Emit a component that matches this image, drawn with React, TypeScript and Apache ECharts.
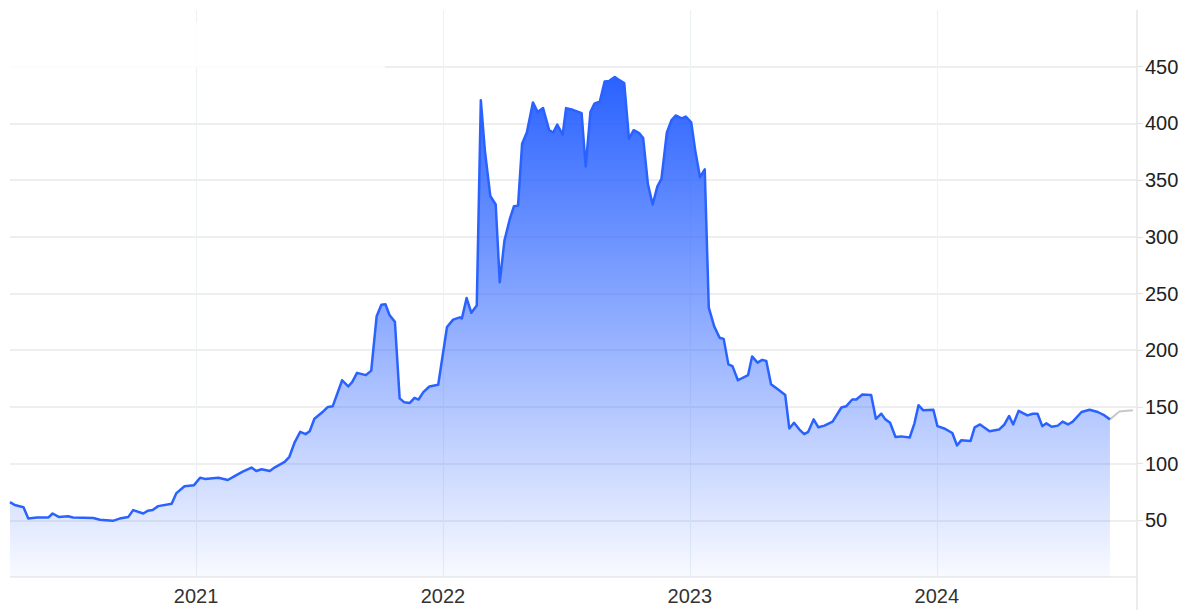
import React, { useEffect, useRef } from "react";
import * as echarts from "echarts";

const dates: string[] = [
  "2020-04-01","2020-04-08","2020-04-21","2020-04-28","2020-05-11","2020-05-28","2020-06-03","2020-06-12","2020-06-26","2020-07-03",
  "2020-08-02","2020-08-12","2020-08-31","2020-09-10","2020-09-23","2020-09-30","2020-10-15","2020-10-22","2020-10-29","2020-11-06",
  "2020-11-26","2020-12-03","2020-12-15","2020-12-29","2021-01-07","2021-01-14","2021-02-03","2021-02-17","2021-02-27","2021-03-11",
  "2021-03-24","2021-03-31","2021-04-08","2021-04-20","2021-04-27","2021-05-12","2021-05-19","2021-05-27","2021-06-04","2021-06-12",
  "2021-06-18","2021-06-25","2021-07-08","2021-07-15","2021-07-22","2021-08-05","2021-08-14","2021-08-20","2021-08-27","2021-09-09",
  "2021-09-17","2021-09-25","2021-10-02","2021-10-08","2021-10-14","2021-10-22","2021-10-29","2021-11-05","2021-11-13","2021-11-20",
  "2021-11-26","2021-12-03","2021-12-12","2021-12-25","2022-01-07","2022-01-16","2022-01-26","2022-01-29","2022-02-05","2022-02-12",
  "2022-02-20","2022-02-26","2022-03-04","2022-03-12","2022-03-20","2022-03-26","2022-04-02","2022-04-10","2022-04-16","2022-04-22",
  "2022-04-28","2022-05-05","2022-05-14","2022-05-21","2022-05-29","2022-06-07","2022-06-13","2022-06-19","2022-06-27","2022-07-02",
  "2022-07-12","2022-07-25","2022-07-31","2022-08-07","2022-08-13","2022-08-21","2022-08-28","2022-09-04","2022-09-12","2022-09-18",
  "2022-09-26","2022-10-03","2022-10-10","2022-10-18","2022-10-24","2022-10-31","2022-11-07","2022-11-14","2022-11-20","2022-11-28",
  "2022-12-05","2022-12-11","2022-12-20","2022-12-26","2023-01-03","2023-01-09","2023-01-16","2023-01-23","2023-01-29","2023-02-06",
  "2023-02-14","2023-02-20","2023-02-27","2023-03-05","2023-03-13","2023-03-28","2023-04-03","2023-04-11","2023-04-18","2023-04-24",
  "2023-05-01","2023-05-11","2023-05-22","2023-05-28","2023-06-04","2023-06-12","2023-06-19","2023-06-25","2023-07-03","2023-07-10",
  "2023-07-19","2023-07-31","2023-08-13","2023-08-20","2023-08-29","2023-09-04","2023-09-13","2023-09-26","2023-10-03","2023-10-11",
  "2023-10-17","2023-10-24","2023-11-01","2023-11-09","2023-11-22","2023-11-29","2023-12-05","2023-12-12","2023-12-27","2024-01-02",
  "2024-01-12","2024-01-24","2024-01-31","2024-02-06","2024-02-20","2024-02-26","2024-03-05","2024-03-19","2024-04-02","2024-04-10",
  "2024-04-17","2024-04-23","2024-05-01","2024-05-14","2024-05-22","2024-05-29","2024-06-05","2024-06-11","2024-06-19","2024-06-28",
  "2024-07-05","2024-07-13","2024-07-20","2024-08-02","2024-08-14","2024-08-26","2024-09-05","2024-09-13"
];

const prices: number[] = [
  66,63.5,61.5,51.5,52.5,52.5,56,53,53.5,52.5,
  52,50.5,49.5,51.5,53,59,56,58.5,59,62.5,
  64.5,74,80,81,87.5,86.5,87.5,85.5,89,93,
  96.5,93.5,95,93.5,96.5,101.5,106,119,128,126,
  128.5,139.5,146,150,150.5,173.5,168,172,180,178,
  182,230,240,240.5,231,225,157.5,154,153.5,158,
  156.5,163,168,169.5,220.5,227,229,228,246,233,
  239.5,420.5,376,336,328.5,260,297,316,327,327.5,
  382,392,418.5,410,413.5,394,392,399,390,413.5,
  412,409,362,410,417.5,419.5,437,437.5,441,438.5,
  435.5,386.5,394,391.5,387,346.5,328.5,344.5,351,392,
  403,407,404.5,406,401,376,352.5,359.5,237.5,221,
  211,210,187.5,186,173.5,178,194.5,189,191.5,190.5,
  170,165.5,160.5,131,136,130,126,128,139,132,
  133.5,137,149.5,150.5,156.5,156.5,161,160.5,139.5,144,
  139,136,123.5,124,123,135.5,151.5,147,147.5,133,
  131,127,116,120.5,120,132,134.5,128.5,130,134.5,
  142,134.5,146.5,142.5,144,144,133,135.5,132.5,133.5,
  137,134.5,137,145.5,147.5,145.5,142.5,139
];

const tailDates: string[] = ["2024-09-13", "2024-09-27", "2024-10-17"];
const tailPrices: number[] = [139, 146, 147];

const yearTicks: string[] = ["2021-01-01", "2022-01-01", "2023-01-01", "2024-01-01"];
const xMin = "2020-04-01";
const xMax = "2024-10-23";

export default function App() {
  const ref = useRef<HTMLDivElement>(null);
  useEffect(() => {
    document.body.style.margin = "0";
    if (!ref.current) return;
    const chart = echarts.init(ref.current, undefined, { renderer: "svg" });
    const t = (s: string) => Date.parse(s);
    const mainData = dates.map((d, i) => [t(d), prices[i]]);
    const tailData = tailDates.map((d, i) => [t(d), tailPrices[i]]);
    const years = yearTicks.map(t);
    const font = "'Liberation Sans', Arial, sans-serif";
    chart.setOption({
      animation: false,
      grid: { left: 10, right: 53, top: 10, bottom: 33, containLabel: false },
      xAxis: {
        type: "value",
        min: t(xMin),
        max: t(xMax),
        axisLine: { show: false },
        axisTick: { show: false, customValues: years },
        axisLabel: {
          customValues: years,
          formatter: (v: number) => String(new Date(v).getUTCFullYear()),
          color: "#333",
          fontSize: 20,
          fontFamily: font,
          margin: 9,
        },
        splitLine: { show: true, customValues: years, lineStyle: { color: "#edf2f5", width: 1.2 } },
      },
      yAxis: {
        type: "value",
        position: "right",
        min: 0,
        max: 500,
        interval: 50,
        axisLine: { show: false },
        axisTick: { show: true, length: 6, lineStyle: { color: "#e3e3e3", width: 1.2 } },
        axisLabel: {
          showMinLabel: false,
          showMaxLabel: false,
          color: "#222",
          fontSize: 20,
          fontFamily: font,
          margin: 8,
        },
        splitLine: { show: true, showMaxLine: false, lineStyle: { color: "#e8e8e8", width: 1.5 } },
      },
      graphic: [
        {
          type: "line",
          z: 50,
          shape: { x1: 1137, y1: 10, x2: 1137, y2: 610 },
          style: { stroke: "#e6e6e6", lineWidth: 1.5 },
        },
        {
          type: "rect",
          z: 100,
          shape: { x: 0, y: 22, width: 385, height: 46 },
          style: { fill: "rgba(255,255,255,0.82)" },
        },
      ],
      series: [
        {
          type: "line",
          data: mainData,
          showSymbol: false,
          smooth: false,
          lineStyle: { color: "#2a62ff", width: 2.5, join: "round" },
          areaStyle: {
            opacity: 1,
            color: new echarts.graphic.LinearGradient(0, 0, 0, 1, [
              { offset: 0, color: "rgba(42,98,255,1)" },
              { offset: 1, color: "rgba(42,98,255,0.03)" },
            ]),
          },
          z: 3,
        },
        {
          type: "line",
          data: tailData,
          showSymbol: false,
          lineStyle: { color: "#c8c8c8", width: 2 },
          z: 2,
        },
      ],
    });
    return () => chart.dispose();
  }, []);
  return <div ref={ref} style={{ width: 1190, height: 610 }} />;
}
